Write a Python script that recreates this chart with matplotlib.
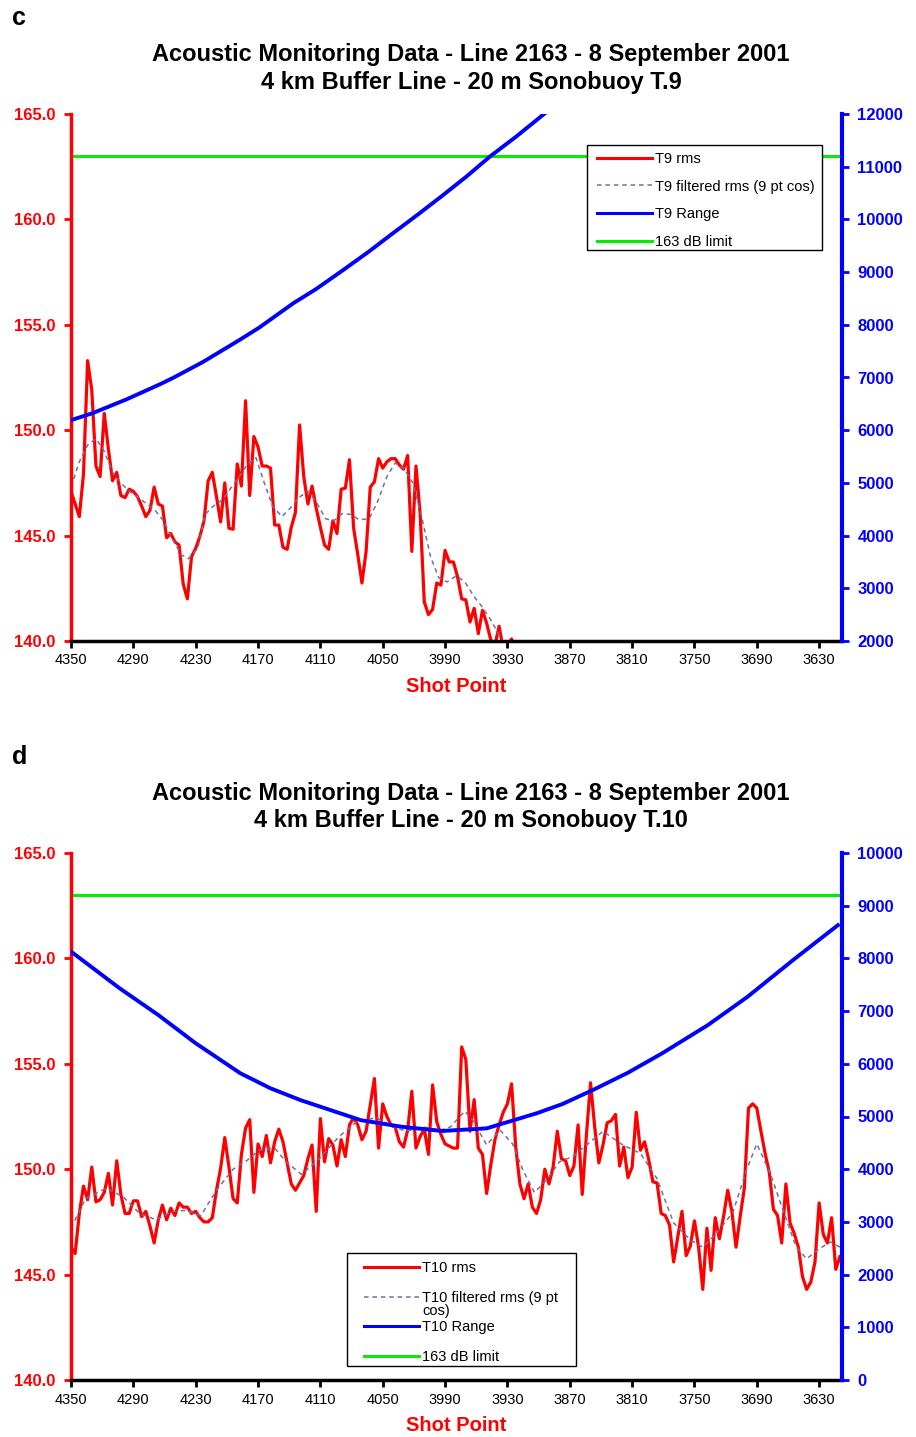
import numpy as np
import matplotlib.pyplot as plt
from matplotlib.patches import Rectangle
from matplotlib.lines import Line2D

plt.rcParams['font.family'] = ['Liberation Sans', 'DejaVu Sans']

# ---- panel c : T.9 ----
rms_c = [147.1, 146.5, 145.9, 147.9, 153.3, 151.9, 148.3, 147.8, 150.8, 149.1,
         147.6, 148.0, 146.9, 146.8, 147.2, 147.1, 146.85, 146.4, 145.9, 146.2,
         147.3, 146.5, 146.4, 144.9, 145.1, 144.7, 144.55, 142.7, 142.0, 144.0,
         144.4, 144.95, 145.7, 147.6, 148.0, 146.85, 145.65, 147.5, 145.35, 145.3,
         148.4, 147.35, 151.4, 146.9, 149.7, 149.2, 148.3, 148.3, 148.2, 145.5,
         145.5, 144.45, 144.35, 145.4, 146.1, 150.25, 147.8, 146.5, 147.35, 146.3,
         145.4, 144.55, 144.35, 145.7, 145.1, 147.2, 147.25, 148.6, 145.35, 144.1,
         142.75, 144.25, 147.3, 147.55, 148.65, 148.2, 148.5, 148.65, 148.65, 148.35,
         148.15, 148.8, 144.25, 148.3, 146.05, 141.85, 141.25, 141.5, 142.75, 142.65,
         144.3, 143.75, 143.75, 143.05, 142.0, 141.95, 140.9, 141.55, 140.35, 141.45,
         140.85, 140.05, 139.8, 140.7, 139.6, 139.8, 140.1, 139.5]

filt_c_sp = [4350, 4342, 4334, 4326, 4318, 4310, 4302, 4294, 4285, 4277,
             4269, 4261, 4253, 4244, 4237, 4228, 4221, 4213, 4204, 4197,
             4188, 4180, 4172, 4164, 4156, 4147, 4139, 4131, 4122, 4114,
             4105, 4097, 4089, 4080, 4073, 4063, 4055, 4046, 4038, 4030,
             4021, 4013, 4004, 3996, 3988, 3979, 3971, 3962, 3954, 3946,
             3937, 3929]
filt_c = [147.3, 148.5, 149.3, 149.6, 149.0, 148.0, 147.5, 147.1, 146.8, 146.5,
          146.2, 145.7, 144.9, 144.1, 143.9, 144.4, 146.0, 146.4, 146.7, 147.2,
          147.8, 148.4, 148.7, 147.5, 146.4, 145.9, 146.3, 146.8, 147.1, 146.6,
          145.8, 145.7, 146.05, 146.0, 145.75, 145.8, 146.6, 147.8, 148.45, 148.2,
          147.5, 146.0, 144.0, 143.0, 142.8, 143.1, 142.8, 142.1, 141.6, 141.0,
          140.2, 139.5]

range_c_sp = [4350, 4329, 4296, 4264, 4252, 4223, 4188, 4169, 4136, 4114,
              4088, 4064, 4040, 4016, 3992, 3969, 3947, 3921, 3896, 3870]
range_c = [6190, 6325, 6590, 6875, 6990, 7295, 7710, 7945, 8410, 8680,
           9040, 9380, 9740, 10095, 10460, 10820, 11190, 11580, 11980, 12380]

# ---- panel d : T.10 ----
rms_d = [146.3, 146.0, 147.9, 149.2, 148.55, 150.1, 148.45, 148.55, 148.9, 149.8,
         148.3, 150.4, 148.8, 147.9, 147.9, 148.5, 148.5, 147.75, 148.0, 147.3,
         146.5, 147.6, 148.3, 147.6, 148.15, 147.8, 148.4, 148.2, 148.2, 147.9,
         148.0, 147.7, 147.5, 147.5, 147.7, 149.0, 150.05, 151.5, 150.1, 148.6,
         148.4, 150.7, 151.95, 152.35, 148.9, 151.2, 150.6, 151.6, 150.3, 151.3,
         151.9, 151.3, 150.3, 149.3, 149.0, 149.35, 149.7, 150.5, 151.15, 148.0,
         152.4, 150.35, 151.45, 151.15, 150.15, 151.4, 150.6, 152.1, 152.45, 152.1,
         151.4, 151.8, 153.05, 154.3, 151.0, 153.1, 152.5, 152.1, 152.0, 151.3,
         151.05, 151.85, 153.7, 151.0, 151.55, 151.9, 150.7, 154.0, 152.25, 151.65,
         151.2, 151.1, 151.0, 151.0, 155.8, 155.2, 151.8, 153.3, 151.0, 150.7,
         148.85, 150.2, 151.4, 152.1, 152.7, 153.1, 154.05, 151.05, 149.3, 148.6,
         149.3, 148.2, 147.9, 148.55, 150.0, 149.3, 150.1, 151.8, 150.5, 150.4,
         149.7, 150.15, 152.1, 148.8, 151.6, 154.1, 152.0, 150.3, 151.15, 152.2,
         152.3, 152.6, 150.15, 151.05, 149.6, 150.1, 152.7, 150.9, 151.3, 150.45,
         149.4, 149.35, 147.9, 147.8, 147.35, 145.6, 146.8, 148.0, 145.9, 146.35,
         147.55, 146.3, 144.3, 147.2, 145.2, 147.7, 146.7, 147.75, 149.0, 148.0,
         146.3, 147.75, 149.1, 152.9, 153.1, 152.9, 151.8, 150.75, 149.85, 148.1,
         147.8, 146.5, 149.3, 147.45, 146.95, 146.3, 144.9, 144.3, 144.65, 145.6,
         148.4, 146.9, 146.5, 147.7, 145.25, 145.85]

filt_d_sp = [4350, 4336, 4316, 4300, 4284, 4268, 4252, 4239, 4225, 4210,
             4194, 4181, 4169, 4154, 4143, 4128, 4111, 4092, 4075, 4056,
             4040, 4027, 4011, 3995, 3985, 3971, 3963, 3950, 3937, 3925,
             3915, 3904, 3892, 3880, 3867, 3838, 3819, 3802, 3786, 3770,
             3754, 3742, 3729, 3713, 3700, 3690, 3677, 3664, 3652, 3642,
             3629, 3619, 3610]
filt_d = [147.2, 148.6, 149.1, 148.7, 147.9, 147.6, 148.0, 148.05, 147.8, 149.0,
          150.0, 150.4, 150.9, 151.0, 150.35, 149.75, 150.5, 151.55, 152.25, 152.45,
          152.0, 151.8, 152.0, 151.85, 152.0, 152.75, 152.3, 151.15, 151.85, 151.2,
          149.95, 148.9, 149.5, 150.35, 150.6, 151.8, 151.15, 150.75, 149.55, 147.45,
          146.65, 146.3, 146.95, 147.95, 149.95, 151.2, 149.8, 147.95, 146.3, 145.75,
          146.25, 146.55, 146.3]

range_d_sp = [4350, 4303, 4266, 4230, 4187, 4158, 4129, 4071, 4032, 3993,
              3950, 3902, 3877, 3848, 3814, 3781, 3737, 3699, 3655, 3612]
range_d = [8130, 7430, 6926, 6390, 5820, 5535, 5310, 4930, 4806, 4725,
           4775, 5060, 5237, 5500, 5831, 6200, 6736, 7270, 7970, 8630]

limit_db = 163
xticks = list(range(4350, 3600, -60))
title1 = 'Acoustic Monitoring Data - Line 2163 - 8 September 2001'

W, H = 916, 1437
fig = plt.figure(figsize=(W / 100, H / 100), dpi=100)


def fx(px):
    return px / W


def fy(py):
    return 1 - py / H


def panel(letter, buoy, top, rms, fsp, fval, rsp, rval, rlim, box, leg_xy, wrap=False):
    shot = list(range(4350, 4350 - 4 * len(rms), -4))
    ax = fig.add_axes([fx(71), fy(top + 527), (842 - 71) / W, 527 / H])
    ax.plot(shot, rms, color='#ff0000', lw=2.3)
    ax.plot(fsp, fval, color='#6b73a6', lw=1.1, ls=(0, (3, 2.5)))
    ax.axhline(limit_db, color='#00f000', lw=2.2)
    ax.set_xlim(4350, 3608)
    ax.set_ylim(140, 165)
    yt = [140, 145, 150, 155, 160, 165]
    ax.set_yticks(yt, labels=['%.1f' % v for v in yt], fontweight='bold')
    ax.set_xticks(xticks, labels=[str(v) for v in xticks])
    ax.tick_params(axis='y', colors='#ff0000', labelsize=12, width=2, length=5, pad=6)
    ax.tick_params(axis='x', colors='black', labelsize=10.5, width=2, length=5, pad=4)
    ax.spines['left'].set_color('#ff0000')
    ax.spines['left'].set_linewidth(2.5)
    ax.spines['bottom'].set_linewidth(2.5)
    ax.spines['top'].set_visible(False)
    ax.spines['right'].set_visible(False)
    ax.set_xlabel('Shot Point', color='#ff0000', fontweight='bold', fontsize=14.5, labelpad=7)

    ax2 = ax.twinx()
    ax2.plot(rsp, rval, color='#0000ff', lw=2.8)
    ax2.set_ylim(*rlim)
    rt = list(range(rlim[0], rlim[1] + 1, 1000))
    ax2.set_yticks(rt, labels=[str(v) for v in rt], fontweight='bold')
    ax2.tick_params(axis='y', colors='#0000ff', labelsize=12, width=2, length=5, pad=6)
    for s in ['left', 'top', 'bottom']:
        ax2.spines[s].set_visible(False)
    ax2.spines['right'].set_color('#0000ff')
    ax2.spines['right'].set_linewidth(3)

    # legend box
    x0, y0, x1, y1 = box
    ax2.add_patch(Rectangle((fx(x0), fy(y1)), (x1 - x0) / W, (y1 - y0) / H,
                            transform=fig.transFigure, facecolor='white', edgecolor='black',
                            lw=1, zorder=4, clip_on=False))
    labs = [buoy + ' rms', buoy + ' filtered rms (9 pt cos)', buoy + ' Range', '163 dB limit']
    spacing = 0.93
    if wrap:
        labs[1] = buoy + ' filtered rms (9 pt'
        spacing = 1.08
    handles = [Line2D([], [], color='#ff0000', lw=2.2),
               Line2D([], [], color='#6b73a6', lw=1.1, ls=(0, (3, 2.5))),
               Line2D([], [], color='#0000ff', lw=2.2),
               Line2D([], [], color='#00f000', lw=2.2)]
    leg = ax2.legend(handles, labs, loc='upper left', bbox_to_anchor=(fx(leg_xy[0]), fy(leg_xy[1])),
                     bbox_transform=fig.transFigure, frameon=False, fontsize=10.5,
                     handlelength=3.8, handletextpad=0.15, labelspacing=spacing,
                     borderpad=0, borderaxespad=0)
    leg.set_zorder(5)
    if wrap:
        fig.text(fx(422), fy(1311), 'cos)', fontsize=10.5, va='center')

    fig.text(fx(12), fy(top - 96), letter, fontsize=18, fontweight='bold', va='center')
    fig.text(fx(471), fy(top - 59), title1, fontsize=17, fontweight='bold', ha='center', va='center')
    fig.text(fx(471), fy(top - 32), '4 km Buffer Line - 20 m Sonobuoy ' + buoy.replace('T', 'T.'),
             fontsize=17, fontweight='bold', ha='center', va='center')
    return ax, ax2


panel('c', 'T9', 114, rms_c, filt_c_sp, filt_c, range_c_sp, range_c, (2000, 12000),
      (587, 145, 822, 250), (597, 152))
panel('d', 'T10', 853, rms_d, filt_d_sp, filt_d, range_d_sp, range_d, (0, 10000),
      (347, 1253, 576, 1366), (364, 1261), wrap=True)

fig.savefig('out.png', dpi=100)
